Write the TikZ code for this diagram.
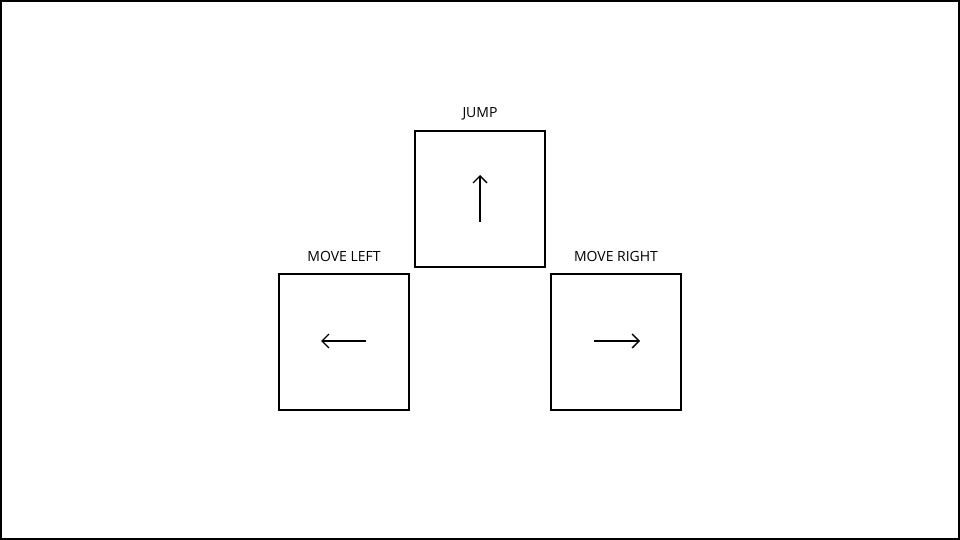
\documentclass[tikz,border=0pt]{standalone}
\usepackage{fontspec}
\setmainfont{Open Sans}
\usetikzlibrary{arrows.meta}
\begin{document}
\begin{tikzpicture}[x=1pt,y=-1pt,
  keybox/.style={draw=black,line width=2pt,minimum width=130pt,minimum height=136pt,inner sep=0pt},
  keylabel/.style={font=\fontsize{14}{16}\selectfont,inner sep=0pt,anchor=base},
  keyarrow/.style={line width=1.5pt,-{Straight Barb[length=7pt,width=14pt,line width=1.4pt]}}]
\useasboundingbox (0,0) rectangle (960,540);
\draw[line width=2pt] (1,1) rectangle (959,539);
\node[keybox] (jump) at (480,199) {};
\node[keybox] (left) at (344,341.5) {};
\node[keybox] (right) at (616,342) {};
\node[keylabel] (ljump) at (480,118) {JUMP};
\node[keylabel] (lleft) at (344,261) {MOVE LEFT};
\node[keylabel] (lright) at (616,261) {MOVE RIGHT};
\coordinate (j1) at (480,222); \coordinate (j2) at (480,175);
\coordinate (l1) at (366,341); \coordinate (l2) at (321,341);
\coordinate (r1) at (594,341); \coordinate (r2) at (640,341);
\draw[keyarrow] (j1) -- (j2);
\draw[keyarrow] (l1) -- (l2);
\draw[keyarrow] (r1) -- (r2);
\end{tikzpicture}
\end{document}
